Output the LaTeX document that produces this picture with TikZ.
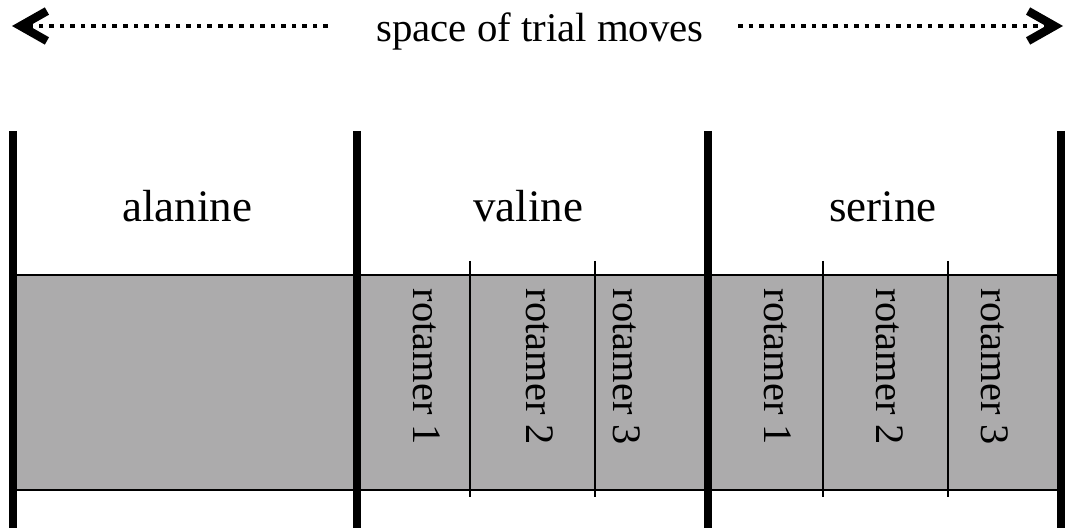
\documentclass[tikz,border=0pt]{standalone}
\usepackage{fontspec}
\setmainfont{Liberation Serif}
\usetikzlibrary{arrows.meta}
\definecolor{bandGray}{RGB}{172,171,172}
\begin{document}
\begin{tikzpicture}[x=0.01cm,y=-0.01cm,
    resName/.style={anchor=base,font=\fontsize{12.8}{14}\selectfont},
    moveName/.style={anchor=base,font=\fontsize{11.6}{13}\selectfont},
    rotName/.style={rotate=-90,font=\fontsize{11.5}{13}\selectfont},
    resWall/.style={line width=2.5pt},
    rotWall/.style={line width=0.45pt},
    moveArrow/.style={line width=1.4pt,dash pattern=on 1.3pt off 1.7pt,
        -{Straight Barb[length=7.5pt,width=8.5pt,line width=2.4pt]}},
]
\useasboundingbox (0,0) rectangle (1067,528);
% rotamer band
\draw[fill=bandGray,line width=0.6pt] (13,275) rectangle (1058,490);
% rotamer separators
\draw[rotWall] (470,261) -- (470,497);
\draw[rotWall] (595,261) -- (595,497);
\draw[rotWall] (823,261) -- (823,497);
\draw[rotWall] (948,261) -- (948,497);
% residue walls
\draw[resWall] (13,131) -- (13,528);
\draw[resWall] (357,131) -- (357,528);
\draw[resWall] (708,131) -- (708,528);
\draw[resWall] (1061,131) -- (1061,528);
% residue names
\node[resName] (ala) at (187,222) {alanine};
\node[resName] (val) at (528,222) {valine};
\node[resName] (ser) at (883,222) {serine};
% rotamers
\node[rotName] (val1) at (427,367) {rotamer 1};
\node[rotName] (val2) at (540,367) {rotamer 2};
\node[rotName] (val3) at (627,367) {rotamer 3};
\node[rotName] (ser1) at (778,367) {rotamer 1};
\node[rotName] (ser2) at (890,367) {rotamer 2};
\node[rotName] (ser3) at (995,367) {rotamer 3};
% trial move space
\node[moveName] (moves) at (540,42) {space of trial moves};
\coordinate (leftFrom) at (328,26);
\coordinate (leftTip) at (12,26);
\coordinate (rightFrom) at (738,26);
\coordinate (rightTip) at (1063,26);
\draw[moveArrow] (leftFrom) -- (leftTip);
\draw[moveArrow] (rightFrom) -- (rightTip);
\end{tikzpicture}
\end{document}
